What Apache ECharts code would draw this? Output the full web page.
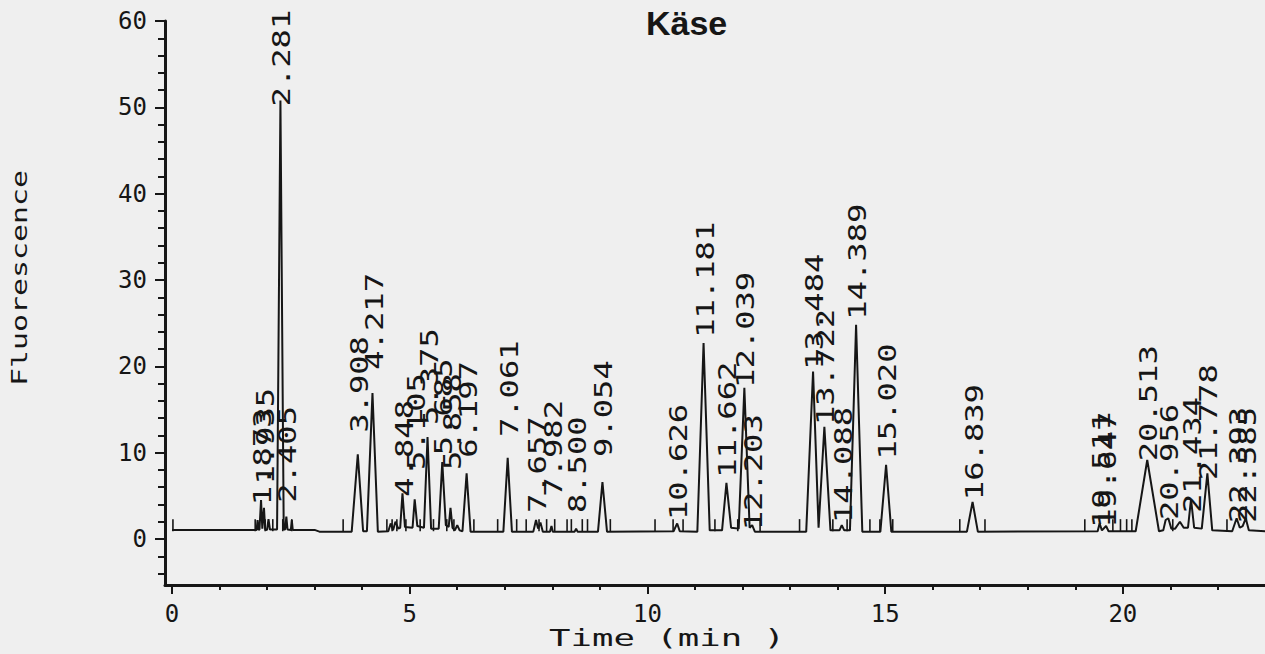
<!DOCTYPE html>
<html>
<head>
<meta charset="utf-8">
<script src="https://cdn.jsdelivr.net/npm/echarts@6.0.0/dist/echarts.min.js"></script>
<style>
html,body{margin:0;padding:0;background:#efefef;}
#chart{width:1265px;height:654px;}
</style>
</head>
<body>
<div id="chart"></div>
<script>
// ---- data ----
const xMajorTicks = [0, 5, 10, 15, 20];
const xMinorTicks = [1,2,3,4,6,7,8,9,11,12,13,14,16,17,18,19,21,22];
const yMajorTicks = [0, 10, 20, 30, 40, 50, 60];
const yMinorTicks = [-4,-2,2,4,6,8,12,14,16,18,22,24,26,28,32,34,36,38,42,44,46,48,52,54,56,58];

// detector trace: [time (min), fluorescence]
const trace = [
  [0,1.05],[1.78,1.05],[1.80,2.2],[1.82,1.05],[1.84,1.1],[1.873,4.5],[1.90,1.2],[1.935,3.6],[1.96,1.1],
  [2.00,1.05],[2.03,2.3],[2.06,1.1],[2.21,1.1],[2.281,50.8],[2.35,1.1],[2.38,1.1],[2.405,2.6],[2.43,1.1],
  [2.50,1.05],[2.52,2.2],[2.54,1.05],[3.00,1.05],[3.10,0.85],
  [3.78,0.85],[3.908,9.8],[4.02,0.9],[4.10,0.9],[4.217,16.9],[4.33,0.85],
  [4.55,0.9],[4.60,1.8],[4.65,1.0],[4.70,2.0],[4.76,1.2],[4.80,1.3],[4.848,5.3],[4.90,1.4],
  [5.06,1.3],[5.105,4.6],[5.16,1.5],[5.30,1.3],[5.375,11.8],[5.45,1.2],
  [5.61,1.2],[5.685,8.9],[5.76,1.6],[5.82,1.4],[5.858,3.6],[5.90,1.3],
  [5.95,1.0],[6.00,1.6],[6.05,1.0],[6.11,0.9],[6.197,7.6],[6.28,0.85],
  [6.97,0.85],[7.061,9.4],[7.15,0.85],[7.60,0.85],[7.657,2.2],[7.70,1.2],[7.75,1.9],[7.80,0.85],
  [7.95,0.85],[7.982,1.5],[8.01,0.85],[8.47,0.85],[8.50,1.2],[8.53,0.85],
  [8.96,0.85],[9.054,6.6],[9.15,0.85],[10.55,0.9],[10.626,1.8],[10.68,0.9],
  [11.05,0.85],[11.181,22.7],[11.31,1.0],[11.57,1.0],[11.662,6.5],[11.76,1.3],
  [11.92,1.2],[12.039,17.5],[12.15,1.3],[12.203,1.6],[12.26,0.85],
  [13.34,0.85],[13.484,19.4],[13.60,1.3],[13.722,13.0],[13.85,1.0],
  [14.04,1.0],[14.088,1.6],[14.14,1.0],[14.26,1.0],[14.389,24.8],[14.52,0.85],
  [14.90,0.85],[15.020,8.6],[15.13,0.85],[16.72,0.85],[16.839,4.3],[16.95,0.85],
  [19.47,0.9],[19.511,1.8],[19.56,1.0],[19.647,1.5],[19.70,0.9],
  [20.27,0.9],[20.513,9.15],[20.76,0.9],[20.85,1.0],[20.90,2.2],[20.956,2.4],[21.02,1.2],
  [21.10,1.2],[21.20,2.0],[21.28,1.3],[21.37,1.3],[21.434,4.6],[21.50,1.3],
  [21.66,1.2],[21.778,7.6],[21.88,1.0],[22.30,0.9],[22.393,2.4],[22.46,1.3],[22.52,1.5],[22.585,2.4],[22.65,1.0],
  [23,0.9]
];

// retention-time labels printed by the integrator
const peakLabels = ["1.873","1.935","2.281","2.405","3.908","4.217","4.848","5.105","5.375","5.685","5.858","6.197",
  "7.061","7.657","7.982","8.500","9.054","10.626","11.181","11.662","12.039","12.203","13.484","13.722","14.088",
  "14.389","15.020","16.839","19.511","19.647","20.513","20.956","21.434","21.778","22.393","22.585"];
const peakTimes = [1.873,1.935,2.281,2.405,3.908,4.217,4.848,5.105,5.375,5.685,5.858,6.197,
  7.061,7.657,7.982,8.500,9.054,10.626,11.181,11.662,12.039,12.203,13.484,13.722,14.088,
  14.389,15.020,16.839,19.511,19.647,20.513,20.956,21.434,21.778,22.393,22.585];
// fluorescence value where each printed label begins
const labelBase = [3.9,6.3,50.1,4.2,12.3,19.6,4.9,8.0,13.2,9.7,8.0,9.4,
  11.8,3.0,4.9,3.0,9.5,2.2,23.3,7.1,17.5,1.0,19.6,13.2,1.85,
  25.4,9.2,4.5,1.3,1.3,9.0,2.2,3.0,6.8,1.85,1.85];

// integrator peak start/stop event marks (time, min)
const eventMarks = [0.02,1.75,1.96,2.12,2.33,2.52,3.60,4.52,4.63,4.73,4.92,5.22,5.50,5.78,5.93,6.35,6.85,7.25,7.45,7.72,
  7.88,8.05,8.31,8.40,8.63,8.74,9.22,10.16,10.54,10.75,11.42,11.90,12.37,13.20,13.90,14.20,14.68,14.89,15.16,
  16.57,17.10,19.20,19.79,19.95,20.08,20.19,21.05,22.19];

// ---- chart ----
const chart = echarts.init(document.getElementById('chart'), null, {renderer: 'svg'});
const ink = '#161616';
const mono = '"DejaVu Sans Mono", "Liberation Mono", monospace';

const labelData = peakTimes.map((t, i) => [t, labelBase[i], i]);
const markData = eventMarks.map(t => [t]);

chart.setOption({
  backgroundColor: '#efefef',
  animation: false,
  title: {
    text: 'Käse',
    left: 641, top: 1,
    textStyle: {fontFamily: '"Liberation Sans", Arial, sans-serif', fontWeight: 'bold', fontSize: 34, color: ink}
  },
  grid: {left: 165, right: 0, top: 21, bottom: 69, containLabel: false},
  xAxis: [
    {
      type: 'value', min: -0.147, max: 22.99, position: 'bottom',
      axisLine: {show: true, onZero: false, lineStyle: {color: ink, width: 3}},
      axisTick: {show: true, customValues: xMajorTicks, length: 9, lineStyle: {color: ink, width: 2}},
      axisLabel: {show: true, customValues: xMajorTicks, margin: 17, color: ink, fontFamily: mono, fontSize: 24},
      splitLine: {show: false}
    },
    {
      type: 'value', min: -0.147, max: 22.99, position: 'bottom',
      axisLine: {show: false, onZero: false},
      axisTick: {show: true, customValues: xMinorTicks, length: 5, lineStyle: {color: ink, width: 2}},
      axisLabel: {show: false},
      splitLine: {show: false}
    }
  ],
  yAxis: [
    {
      type: 'value', min: -5.33, max: 60, position: 'left',
      axisLine: {show: true, onZero: false, lineStyle: {color: ink, width: 3}},
      axisTick: {show: true, customValues: yMajorTicks, length: 10, lineStyle: {color: ink, width: 2}},
      axisLabel: {show: true, customValues: yMajorTicks, margin: 18, color: ink, fontFamily: mono, fontSize: 24},
      splitLine: {show: false}
    },
    {
      type: 'value', min: -5.33, max: 60, position: 'left',
      axisLine: {show: false, onZero: false},
      axisTick: {show: true, customValues: yMinorTicks, length: 7, lineStyle: {color: ink, width: 2}},
      axisLabel: {show: false},
      splitLine: {show: false}
    }
  ],
  graphic: [
    {type: 'text', x: 19, y: 278, rotation: Math.PI / 2, scaleX: 1.36,
     style: {text: 'Fluorescence', font: '22px ' + mono, fill: ink, align: 'center', verticalAlign: 'middle'}},
    {type: 'text', x: 667, y: 638, scaleX: 1.55,
     style: {text: 'Time (min )', font: '23px ' + mono, fill: ink, align: 'center', verticalAlign: 'middle'}}
  ],
  series: [
    {
      type: 'line', data: trace, showSymbol: false, symbol: 'none',
      xAxisIndex: 0, yAxisIndex: 0,
      lineStyle: {color: ink, width: 2}, z: 3
    },
    {
      type: 'custom', data: markData, xAxisIndex: 0, yAxisIndex: 0, clip: false,
      renderItem: function (params, api) {
        const a = api.coord([api.value(0), 0.9]);
        const b = api.coord([api.value(0), 2.3]);
        return {type: 'line', shape: {x1: a[0], y1: a[1], x2: b[0], y2: b[1]},
                style: {stroke: ink, lineWidth: 1.6}};
      },
      z: 3
    },
    {
      type: 'custom', data: labelData, xAxisIndex: 0, yAxisIndex: 0, clip: false,
      renderItem: function (params, api) {
        const p = api.coord([api.value(0), api.value(1)]);
        return {type: 'text', x: p[0] + 2, y: p[1], rotation: Math.PI / 2, scaleX: 1.34,
                style: {text: peakLabels[params.dataIndex], font: '24px ' + mono, fill: ink,
                        align: 'left', verticalAlign: 'middle'}};
      },
      z: 4
    }
  ]
});
</script>
</body>
</html>
